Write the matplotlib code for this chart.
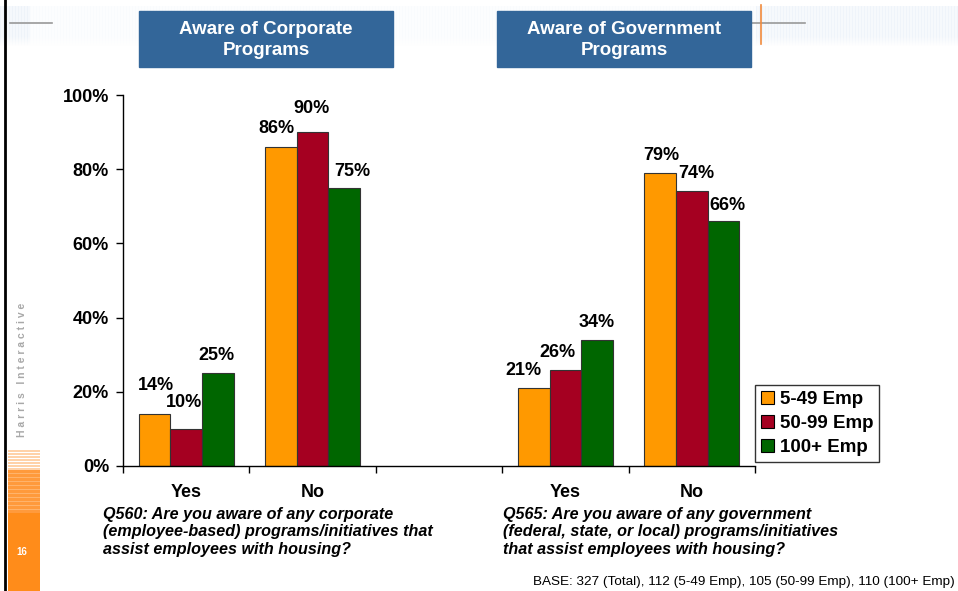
import numpy as np
import matplotlib
matplotlib.use('Agg')
import matplotlib.pyplot as plt
from matplotlib.patches import Rectangle, Arc

plt.rcParams['font.family'] = ['Liberation Sans', 'DejaVu Sans']

# Survey results (% of respondents)
categories = ['Yes', 'No', '', 'Yes', 'No']
slots = [0, 1, 3, 4]          # corporate Yes/No, gap, government Yes/No
series_names = ['5-49 Emp', '50-99 Emp', '100+ Emp']
emp_5_49 = [14, 86, 21, 79]
emp_50_99 = [10, 90, 26, 74]
emp_100_plus = [25, 75, 34, 66]
series_values = [emp_5_49, emp_50_99, emp_100_plus]
colors = ['#FF9900', '#A50021', '#006600']

# label nudges (pixels) so overlapping labels sit apart
nudges = [
    [(1, 29), (-5, 18), (-10, 18), (1, 17)],
    [(-2, 26), (-1, 24), (-8, 17), (5, 18)],
    [(-1, 18), (8, 16), (0, 17), (4, 16)],
]

W, H = 958, 591
fig = plt.figure(figsize=(W / 100, H / 100), dpi=100)


def fx(px):
    return px / W


def fy(py):
    return 1 - py / H


# page decoration behind the chart
bg = fig.add_axes([0, 0, 1, 1], zorder=-10)
bg.set_xlim(0, W)
bg.set_ylim(H, 0)
bg.axis('off')

band = np.ones((40, W, 3))
cols = np.arange(W)
strength = np.where(cols < 30, 0.30, np.where(cols > 755, 0.28, 0.09))
stripe = np.where(cols % 3 == 0, 1.0, 0.55)
tint = np.array([0.78, 0.85, 0.93])
for r in range(40):
    fade = 1.0 if r < 30 else (40 - r) / 10
    a = (strength * stripe * fade)[:, None]
    band[r] = 1 - a * (1 - tint)
bg.imshow(band, extent=(0, W, 46, 6), aspect='auto', zorder=0)
bg.plot([10, 52], [23, 23], color='#999999', lw=1.2, zorder=1)
bg.plot([752, 805], [23, 23], color='#999999', lw=1.2, zorder=1)
bg.plot([761, 761], [5, 44], color='#F08A3C', lw=1.2, zorder=1)
bg.add_patch(Arc((930, 80), 260, 150, theta1=95, theta2=170, color='white', lw=3, zorder=2))
bg.add_patch(Arc((960, 95), 220, 170, theta1=100, theta2=165, color='white', lw=2, zorder=2))
bg.plot([5, 5], [0, H], color='black', lw=2, zorder=3)

# orange tab at lower left
for yy in range(450, 470, 3):
    bg.add_patch(Rectangle((8, yy), 32, 1.5, color='#FFD2A8', lw=0, zorder=1))
for yy in range(470, 515, 4):
    bg.add_patch(Rectangle((8, yy), 32, 2.5, color='#FF9A3C', lw=0, zorder=1))
bg.add_patch(Rectangle((8, 470), 32, 45, color='#FFB36B', lw=0, zorder=0.5))
bg.add_patch(Rectangle((8, 513), 32, H - 513, color='#FF8C1A', lw=0, zorder=1))
bg.text(22, 552, '16', color='white', fontsize=7, fontweight='bold',
        ha='center', va='center', zorder=2)
bg.text(22, 370, ' '.join('Harris Interactive'), color='#A8A8A8', fontsize=7.5,
        fontweight='bold', rotation=90, ha='center', va='center')

# main bar chart
ax = fig.add_axes([fx(123), fy(466), fx(755) - fx(123), fy(95) - fy(466)])
width = 0.25
offsets = [-width, 0, width]
for k, (name, vals, col) in enumerate(zip(series_names, series_values, colors)):
    xs = [s + offsets[k] for s in slots]
    ax.bar(xs, vals, width=width, color=col, edgecolor='#333333', linewidth=0.8,
           label=name, zorder=2)
    for x, v, (dx, dy) in zip(xs, vals, nudges[k]):
        ax.annotate(f'{v}%', (x, v), xytext=(dx, dy), textcoords='offset pixels',
                    ha='center', va='center', fontsize=13, fontweight='bold')

ax.set_xlim(-0.5, 4.5)
ax.set_ylim(0, 100)
ax.set_yticks(range(0, 101, 20))
ax.set_yticklabels([f'{t}%' for t in range(0, 101, 20)], fontsize=13, fontweight='bold')
ax.set_xticks(range(len(categories)))
ax.set_xticklabels(categories, fontsize=13, fontweight='bold')
ax.set_xticks(np.arange(-0.5, 4.6, 1), minor=True)
ax.tick_params(axis='x', which='major', length=0, pad=13)
ax.tick_params(axis='x', which='minor', length=5, width=1, direction='out')
ax.tick_params(axis='y', length=5, width=1, direction='out', pad=5)
ax.spines['top'].set_visible(False)
ax.spines['right'].set_visible(False)
ax.spines['left'].set_linewidth(1)
ax.spines['bottom'].set_linewidth(1)
ax.patch.set_alpha(0)

leg = fig.legend(loc='lower left', bbox_to_anchor=(fx(755), fy(462)),
                 prop={'size': 13.5, 'weight': 'bold'}, frameon=True, fancybox=False,
                 edgecolor='black', handlelength=0.7, handleheight=0.7,
                 handletextpad=0.35, borderpad=0.3, labelspacing=0.38, borderaxespad=0)
leg.get_frame().set_linewidth(1)
for h in leg.legend_handles:
    h.set_edgecolor('black')
    h.set_linewidth(0.8)

# section headers
for x0, title in [(139, 'Aware of Corporate\nPrograms'), (497, 'Aware of Government\nPrograms')]:
    fig.patches.append(Rectangle((fx(x0), fy(67)), fx(254), fy(11) - fy(67),
                                 transform=fig.transFigure, color='#336699', zorder=5))
    fig.text(fx(x0 + 127), fy(40), title, color='white', fontsize=13.5,
             fontweight='bold', ha='center', va='center', linespacing=1.3, zorder=6)

# question wording under each group
q560 = ('Q560: Are you aware of any corporate\n'
        '(employee-based) programs/initiatives that\n'
        'assist employees with housing?')
q565 = ('Q565: Are you aware of any government\n'
        '(federal, state, or local) programs/initiatives\n'
        'that assist employees with housing?')
for x0, q in [(103, q560), (503, q565)]:
    fig.text(fx(x0), fy(507), q, fontsize=11.6, fontweight='bold', style='italic',
             ha='left', va='top', linespacing=1.2)

fig.text(fx(955), fy(582), 'BASE: 327 (Total), 112 (5-49 Emp), 105 (50-99 Emp), 110 (100+ Emp)',
         fontsize=9.7, ha='right', va='center')

fig.savefig('out.png', dpi=100)
